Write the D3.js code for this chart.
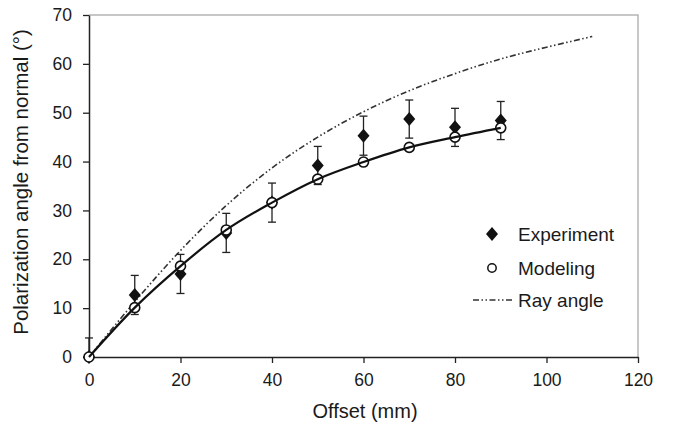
<!DOCTYPE html>
<html>
<head>
<meta charset="utf-8">
<script src="https://cdn.jsdelivr.net/npm/d3@7"></script>
<style>
	body { margin: 0; background: #fff; }
	text { font-family: "Liberation Sans", Arial, sans-serif; fill: #1a1a1a; }
</style>
</head>
<body>
<div id="chart-area"></div>
<script>
// SVG Size
let width = 681,
	height = 424;

// Data
let offsets = [0, 10, 20, 30, 40, 50, 60, 70, 80, 90];
let experiment = [0, 12.7, 17.0, 25.4, 31.6, 39.2, 45.3, 48.7, 47.0, 48.4];
let expError = [3.9, 4.0, 4.0, 4.0, 4.0, 3.9, 4.0, 3.9, 3.9, 3.9];
let modeling = [0, 10.1, 18.6, 26.0, 31.6, 36.4, 39.9, 42.9, 45.0, 46.9];
let rayOffsets = [0, 10, 20, 30, 40, 50, 60, 70, 80, 90, 100, 110];
let rayAngle = [0, 11.3, 21.8, 31.0, 38.7, 45.0, 50.2, 54.5, 58.0, 61.0, 63.4, 65.6];
let xTicks = [0, 20, 40, 60, 80, 100, 120];
let yTicks = [0, 10, 20, 30, 40, 50, 60, 70];

let margin = {left: 89, right: 43, top: 15, bottom: 67};

let svg = d3.select("#chart-area").append("svg")
	.attr("width", width)
	.attr("height", height);

let XScale = d3.scaleLinear()
	.domain([0, 120])
	.range([margin.left, width - margin.right]);
let YScale = d3.scaleLinear()
	.domain([0, 70])
	.range([height - margin.bottom, margin.top]);

// gray frame on top and right
svg.append("path")
	.attr("d", "M" + XScale(0) + "," + YScale(70) + "H" + XScale(120) + "V" + YScale(0))
	.attr("fill", "none")
	.attr("stroke", "#b5b5b5")
	.attr("stroke-width", 1.5);

//The Axis
let xAxis = d3.axisBottom(XScale)
	.tickValues(xTicks)
	.tickSize(6)
	.tickPadding(11)
	.tickSizeOuter(0);
let yAxis = d3.axisLeft(YScale)
	.tickValues(yTicks)
	.tickSize(6)
	.tickPadding(11)
	.tickSizeOuter(0);

let gx = svg.append("g")
	.attr("class", "axis x-axis")
	.attr("transform", "translate(0," + YScale(0) + ")")
	.call(xAxis);
let gy = svg.append("g")
	.attr("class", "axis y-axis")
	.attr("transform", "translate(" + XScale(0) + ",0)")
	.call(yAxis);

[gx, gy].forEach(g => {
	g.select(".domain").attr("stroke", "#222").attr("stroke-width", 1.5);
	g.selectAll(".tick line").attr("stroke", "#222").attr("stroke-width", 1.3);
	g.selectAll(".tick text")
		.style("font-family", "'Liberation Sans', Arial, sans-serif")
		.style("font-size", "17.5px")
		.attr("fill", "#1a1a1a");
});
gx.select(".tick line").remove();

// axis titles
svg.append("text")
	.attr("x", 365)
	.attr("y", 418)
	.attr("text-anchor", "middle")
	.style("font-size", "20px")
	.text("Offset (mm)");

svg.append("text")
	.attr("transform", "translate(28," + 182 + ") rotate(-90)")
	.attr("text-anchor", "middle")
	.style("font-size", "20.5px")
	.text("Polarization angle from normal (°)");

// ray angle line
let rayData = rayOffsets.map((x, i) => ({x: x, y: rayAngle[i]}));
let rayLine = d3.line()
	.x(d => XScale(d.x))
	.y(d => YScale(d.y))
	.curve(d3.curveMonotoneX);

svg.append("path")
	.datum(rayData)
	.attr("d", rayLine)
	.attr("fill", "none")
	.attr("stroke", "#333")
	.attr("stroke-width", 1.6)
	.attr("stroke-dasharray", "6,2.5,1.5,2.5,1.5,2.5");

// experiment error bars
let expData = offsets.map((x, i) => ({x: x, y: experiment[i], e: expError[i]}));
let bars = svg.append("g").attr("class", "error-bars")
	.selectAll("g").data(expData).enter().append("g");

bars.append("line")
	.attr("x1", d => XScale(d.x))
	.attr("x2", d => XScale(d.x))
	.attr("y1", d => YScale(Math.max(0, d.y - d.e)))
	.attr("y2", d => YScale(d.y + d.e))
	.attr("stroke", "#222")
	.attr("stroke-width", 1.3);
bars.append("line")
	.attr("x1", d => XScale(d.x) - 4)
	.attr("x2", d => XScale(d.x) + 4)
	.attr("y1", d => YScale(d.y + d.e))
	.attr("y2", d => YScale(d.y + d.e))
	.attr("stroke", "#222")
	.attr("stroke-width", 1.3);
bars.filter(d => d.y - d.e > 0).append("line")
	.attr("x1", d => XScale(d.x) - 4)
	.attr("x2", d => XScale(d.x) + 4)
	.attr("y1", d => YScale(d.y - d.e))
	.attr("y2", d => YScale(d.y - d.e))
	.attr("stroke", "#222")
	.attr("stroke-width", 1.3);

function diamond(cx, cy) {
	return "M" + cx + "," + (cy - 7) + "L" + (cx + 6) + "," + cy + "L" + cx + "," + (cy + 7) + "L" + (cx - 6) + "," + cy + "Z";
}

svg.append("g").attr("class", "experiment")
	.selectAll("path").data(expData).enter()
	.append("path")
	.attr("d", d => diamond(XScale(d.x), YScale(d.y)))
	.attr("fill", "#111");

// modeling curve and points
let modData = offsets.map((x, i) => ({x: x, y: modeling[i]}));
let modLine = d3.line()
	.x(d => XScale(d.x))
	.y(d => YScale(d.y))
	.curve(d3.curveMonotoneX);

svg.append("g").attr("class", "modeling")
	.selectAll("circle").data(modData).enter()
	.append("circle")
	.attr("cx", d => XScale(d.x))
	.attr("cy", d => YScale(d.y))
	.attr("r", 5)
	.attr("fill", "#fff")
	.attr("stroke", "#111")
	.attr("stroke-width", 1.6);

svg.append("path")
	.datum(modData)
	.attr("d", modLine)
	.attr("fill", "none")
	.attr("stroke", "#111")
	.attr("stroke-width", 2.2);

// Legend
let legend = svg.append("g").attr("class", "legend");
legend.append("path")
	.attr("d", diamond(492, 234))
	.attr("fill", "#111");
legend.append("text")
	.attr("x", 518).attr("y", 234).attr("dy", "0.35em")
	.style("font-size", "19px")
	.text("Experiment");
legend.append("circle")
	.attr("cx", 492).attr("cy", 268).attr("r", 4.2)
	.attr("fill", "#fff").attr("stroke", "#111").attr("stroke-width", 1.5);
legend.append("text")
	.attr("x", 518).attr("y", 268).attr("dy", "0.35em")
	.style("font-size", "19px")
	.text("Modeling");
legend.append("line")
	.attr("x1", 473).attr("x2", 512).attr("y1", 300).attr("y2", 300)
	.attr("stroke", "#333").attr("stroke-width", 1.6)
	.attr("stroke-dasharray", "6,2.5,1.5,2.5,1.5,2.5");
legend.append("text")
	.attr("x", 518).attr("y", 300).attr("dy", "0.35em")
	.style("font-size", "19px")
	.text("Ray angle");
</script>
</body>
</html>
